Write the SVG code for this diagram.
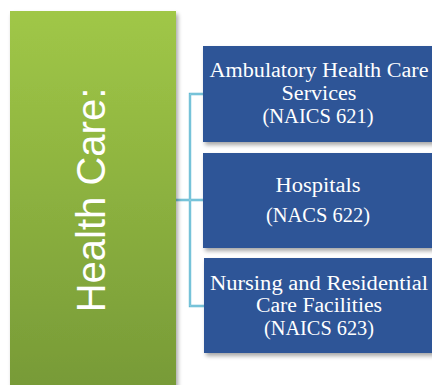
<svg xmlns="http://www.w3.org/2000/svg" width="432" height="385" viewBox="0 0 432 385">
<defs>
<linearGradient id="g" x1="0" y1="0" x2="0" y2="1">
<stop offset="0" stop-color="#a0c747"/>
<stop offset="1" stop-color="#779a37"/>
</linearGradient>
<filter id="sh" x="-10%" y="-10%" width="130%" height="130%">
<feGaussianBlur in="SourceAlpha" stdDeviation="2"/>
<feOffset dx="2" dy="3" result="b"/>
<feComponentTransfer><feFuncA type="linear" slope="0.35"/></feComponentTransfer>
<feMerge><feMergeNode/><feMergeNode in="SourceGraphic"/></feMerge>
</filter>
</defs>
<style>
.box{fill:#2e5597;filter:url(#sh)}
.t{fill:#ffffff;font-family:"Liberation Serif","DejaVu Serif",serif;font-size:20px;text-anchor:middle}
.c{fill:none;stroke:#62b8d2;stroke-width:2.4}
.ci{fill:none;stroke:#a8dcea;stroke-width:0.6}
</style>
<rect width="432" height="385" fill="#ffffff"/>
<g id="connectors">
<path class="c" d="M176 200 H204 M204 94 H190 V306 H204"/>
<path class="ci" d="M176 200 H204 M204 94 H190 V306 H204"/>
</g>
<g id="health-care">
<rect x="10" y="11" width="166" height="380" fill="url(#g)" filter="url(#sh)"/>
<text transform="translate(105 200) rotate(-90)" x="0" y="0" fill="#ffffff" font-family="Liberation Sans,Arial,sans-serif" font-size="40" text-anchor="middle">Health Care:</text>
</g>
<g id="ambulatory">
<rect class="box" x="203" y="46" width="235" height="96"/>
<text class="t" x="319" y="77" textLength="219" lengthAdjust="spacingAndGlyphs">Ambulatory Health Care</text>
<text class="t" x="319" y="100" textLength="75" lengthAdjust="spacingAndGlyphs">Services</text>
<text class="t" x="318" y="123" textLength="111" lengthAdjust="spacingAndGlyphs">(NAICS 621)</text>
</g>
<g id="hospitals">
<rect class="box" x="203" y="153" width="235" height="95"/>
<text class="t" x="318" y="192" textLength="85" lengthAdjust="spacingAndGlyphs">Hospitals</text>
<text class="t" x="318" y="222" textLength="104" lengthAdjust="spacingAndGlyphs">(NACS 622)</text>
</g>
<g id="nursing">
<rect class="box" x="204" y="258" width="234" height="95"/>
<text class="t" x="319" y="290" textLength="218" lengthAdjust="spacingAndGlyphs">Nursing and Residential</text>
<text class="t" x="319" y="312" textLength="126" lengthAdjust="spacingAndGlyphs">Care Facilities</text>
<text class="t" x="319" y="335" textLength="110" lengthAdjust="spacingAndGlyphs">(NAICS 623)</text>
</g>
</svg>
